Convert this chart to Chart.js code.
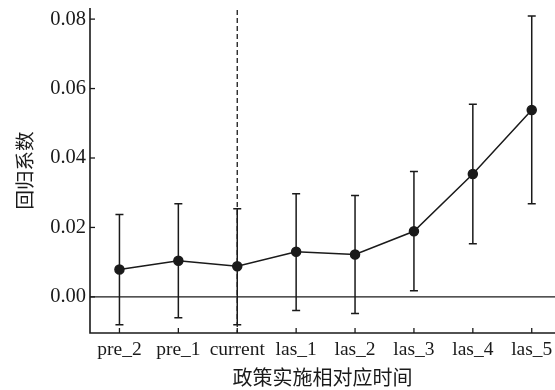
<!DOCTYPE html>
<html>
<head>
<meta charset="utf-8">
<script src="https://cdn.jsdelivr.net/npm/chart.js@4.4.0/dist/chart.umd.min.js"></script>
<style>
  html, body { margin: 0; padding: 0; background: #fff; }
  #wrap { width: 555px; height: 390px; }
</style>
</head>
<body>
<div id="wrap"><canvas id="chart"></canvas></div>
<script>
// Event-study data
const periods = ['pre_2', 'pre_1', 'current', 'las_1', 'las_2', 'las_3', 'las_4', 'las_5'];
const coefs = [0.0079, 0.0104, 0.0088, 0.0130, 0.0122, 0.0189, 0.0354, 0.0538];
const upper = [0.0237, 0.0268, 0.0254, 0.0297, 0.0292, 0.0361, 0.0555, 0.0809];
const lower = [-0.0080, -0.0060, -0.0080, -0.0039, -0.0048, 0.0018, 0.0153, 0.0268];
const yTicks = [0, 0.02, 0.04, 0.06, 0.08];
const policyIndex = 2; // 'current'

const ink = '#1a1a1a';

// Error bars, zero line, dashed policy line, inward ticks and axis lines
const decorPlugin = {
    id: 'decor',
    beforeDatasetsDraw(chart) {
        const { ctx, chartArea: a, scales: { x, y } } = chart;
        ctx.save();
        ctx.strokeStyle = ink;

        // zero line
        ctx.lineWidth = 1.3;
        const y0 = y.getPixelForValue(0);
        ctx.beginPath();
        ctx.moveTo(a.left, y0);
        ctx.lineTo(a.right, y0);
        ctx.stroke();

        // dashed line at policy period
        const xp = x.getPixelForValue(policyIndex);
        ctx.setLineDash([5, 3]);
        ctx.beginPath();
        ctx.moveTo(xp, a.top + 2);
        ctx.lineTo(xp, a.bottom);
        ctx.stroke();
        ctx.setLineDash([]);

        // error bars
        ctx.lineWidth = 1.5;
        periods.forEach((p, i) => {
            const px = x.getPixelForValue(i);
            const yt = y.getPixelForValue(upper[i]);
            const yb = y.getPixelForValue(lower[i]);
            ctx.beginPath();
            ctx.moveTo(px, yt);
            ctx.lineTo(px, yb);
            ctx.moveTo(px - 4, yt);
            ctx.lineTo(px + 4, yt);
            ctx.moveTo(px - 4, yb);
            ctx.lineTo(px + 4, yb);
            ctx.stroke();
        });

        // axis lines
        ctx.lineWidth = 1.6;
        ctx.beginPath();
        ctx.moveTo(a.left, a.top);
        ctx.lineTo(a.left, a.bottom);
        ctx.lineTo(a.right, a.bottom);
        ctx.stroke();

        // inward tick marks
        ctx.lineWidth = 1.3;
        yTicks.forEach(v => {
            const py = y.getPixelForValue(v);
            ctx.beginPath();
            ctx.moveTo(a.left, py);
            ctx.lineTo(a.left + 5, py);
            ctx.stroke();
        });
        periods.forEach((p, i) => {
            const px = x.getPixelForValue(i);
            ctx.beginPath();
            ctx.moveTo(px, a.bottom);
            ctx.lineTo(px, a.bottom - 5);
            ctx.stroke();
        });
        ctx.restore();
    }
};

const ctx = document.getElementById('chart').getContext('2d');
new Chart(ctx, {
    type: 'line',
    data: {
        datasets: [{
            data: coefs.map((v, i) => ({ x: i, y: v })),
            borderColor: ink,
            backgroundColor: ink,
            borderWidth: 1.5,
            pointRadius: 4.5,
            pointHoverRadius: 4.5,
            tension: 0,
            clip: false
        }]
    },
    options: {
        responsive: true,
        maintainAspectRatio: false,
        animation: false,
        layout: { autoPadding: false, padding: { top: 8, right: 0, left: 0, bottom: 0 } },
        plugins: {
            legend: { display: false },
            tooltip: { enabled: false }
        },
        scales: {
            x: {
                type: 'linear',
                min: -0.5,
                max: 7.395,
                afterBuildTicks: scale => {
                    scale.ticks = periods.map((p, i) => ({ value: i }));
                },
                afterFit: scale => {
                    scale.height = 57;
                    scale.paddingLeft = 0;
                    scale.paddingRight = 0;
                },
                grid: { display: false, drawTicks: false },
                border: { display: false },
                ticks: {
                    autoSkip: false,
                    maxRotation: 0,
                    padding: 5,
                    color: ink,
                    font: { family: 'Liberation Serif', size: 19.5 },
                    callback: value => periods[value]
                },
                title: {
                    display: true,
                    text: '政策实施相对应时间',
                    color: ink,
                    padding: { top: 0, bottom: 1 },
                    font: { family: 'Noto Sans CJK SC', size: 20 }
                }
            },
            y: {
                min: -0.0104,
                max: 0.0832,
                afterBuildTicks: scale => {
                    scale.ticks = yTicks.map(v => ({ value: v }));
                },
                afterFit: scale => {
                    scale.width = 90;
                    scale.paddingTop = 0;
                    scale.paddingBottom = 0;
                },
                grid: { display: false, drawTicks: false },
                border: { display: false },
                ticks: {
                    padding: 4,
                    color: ink,
                    font: { family: 'Liberation Serif', size: 20.5 },
                    callback: value => value.toFixed(2)
                },
                title: {
                    display: true,
                    text: '回归系数',
                    color: ink,
                    padding: { top: 13, bottom: 0 },
                    font: { family: 'Noto Sans CJK SC', size: 19.5 }
                }
            }
        }
    },
    plugins: [decorPlugin]
});
</script>
</body>
</html>
